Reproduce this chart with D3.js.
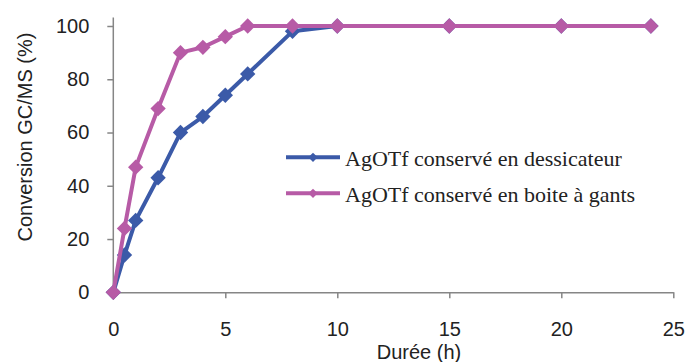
<!DOCTYPE html>
<html>
<head>
    <meta charset="utf-8" />
    <title>Conversion GC/MS</title>
    <script src="https://d3js.org/d3.v7.min.js"></script>
    <style>
        body { margin: 0; background: #fff; }
        .tick text { font-family: "Liberation Sans", Arial, sans-serif; font-size: 20px; fill: #222; }
    </style>
</head>
<body>
    <div class="chart"></div>
    <script>
        // data
        const hours = [0, 0.5, 1, 2, 3, 4, 5, 6, 8, 10, 15, 20, 24];
        const dessicateur = [0, 14, 27, 43, 60, 66, 74, 82, 98, 100, 100, 100, 100];
        const boiteAGants = [0, 24, 47, 69, 90, 92, 96, 100, 100, 100, 100, 100, 100];
        const seriesNames = ["AgOTf conservé en dessicateur", "AgOTf conservé en boite à gants"];
        const xTicks = [0, 5, 10, 15, 20, 25];
        const yTicks = [0, 20, 40, 60, 80, 100];

        const w = 685, h = 362;
        const colors = ["#3b5aa8", "#b75ba6"];
        const axisColor = "#868686";

        const svg = d3.select('.chart')
            .append('svg')
            .attr('width', w)
            .attr('height', h);

        const x = d3.scaleLinear().domain([0, 25]).range([113.3, 673.3]);
        const y = d3.scaleLinear().domain([0, 100]).range([292.3, 26]);

        // x axis
        const gx = svg.append('g')
            .attr('transform', `translate(0,${y(0)})`)
            .call(d3.axisBottom(x).tickValues(xTicks).tickSize(6).tickSizeOuter(0).tickPadding(24));
        gx.select('.domain').attr('stroke', axisColor).attr('stroke-width', 1.5);
        gx.selectAll('.tick line').attr('stroke', axisColor).attr('stroke-width', 1.5);

        // y axis
        const gy = svg.append('g')
            .attr('transform', `translate(${x(0)},0)`)
            .call(d3.axisLeft(y).tickValues(yTicks).tickSize(6).tickSizeOuter(0).tickPadding(18));
        gy.select('.domain').attr('stroke', axisColor).attr('stroke-width', 1.5)
            .attr('d', `M0,${y(0)}V17.5`);
        gy.selectAll('.tick line').attr('stroke', axisColor).attr('stroke-width', 1.5);

        // axis titles
        svg.append('text')
            .attr('x', 419).attr('y', 359)
            .attr('text-anchor', 'middle')
            .style('font-family', '"Liberation Sans", Arial, sans-serif')
            .style('font-size', '20px').attr('fill', '#222')
            .text('Durée (h)');

        svg.append('text')
            .attr('transform', 'translate(32,137) rotate(-90)')
            .attr('text-anchor', 'middle')
            .style('font-family', '"Liberation Sans", Arial, sans-serif')
            .style('font-size', '20px').attr('fill', '#222')
            .text('Conversion GC/MS (%)');

        const line = d3.line().x(d => x(d[0])).y(d => y(d[1]));
        const diamond = d3.symbol().type(d3.symbolDiamond2).size(150);

        [dessicateur, boiteAGants].forEach((vals, i) => {
            const pts = hours.map((t, k) => [t, vals[k]]);
            svg.append('path')
                .datum(pts)
                .attr('d', line)
                .attr('fill', 'none')
                .attr('stroke', colors[i])
                .attr('stroke-width', 4)
                .attr('stroke-linejoin', 'round');

            svg.selectAll('.m' + i)
                .data(pts)
                .enter()
                .append('path')
                .attr('class', 'm' + i)
                .attr('d', diamond)
                .attr('transform', d => `translate(${x(d[0])},${y(d[1])})`)
                .attr('fill', colors[i]);
        });

        // legend
        const legend = svg.append('g');
        seriesNames.forEach((name, i) => {
            const ly = 157.3 + i * 36;
            legend.append('line')
                .attr('x1', 286).attr('x2', 340)
                .attr('y1', ly).attr('y2', ly)
                .attr('stroke', colors[i]).attr('stroke-width', 4);
            legend.append('path')
                .attr('d', d3.symbol().type(d3.symbolDiamond2).size(55))
                .attr('transform', `translate(313,${ly})`)
                .attr('fill', colors[i]);
            legend.append('text')
                .attr('x', 345).attr('y', ly + 9)
                .style('font-family', '"Liberation Serif", "Times New Roman", serif')
                .style('font-size', '22px').attr('fill', '#222')
                .text(name);
        });
    </script>
</body>
</html>
